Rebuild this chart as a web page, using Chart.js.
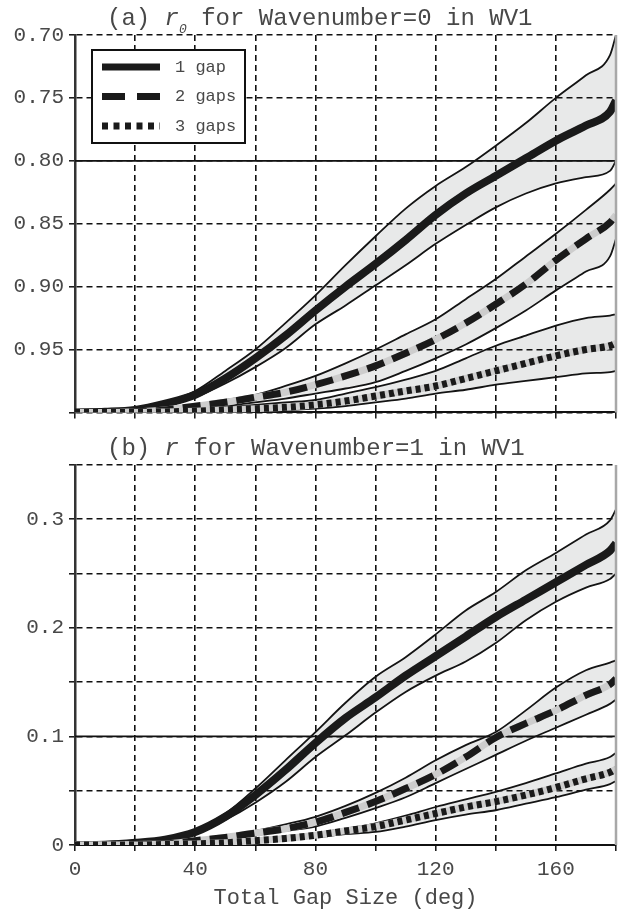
<!DOCTYPE html>
<html>
<head>
<meta charset="utf-8">
<script src="https://cdn.jsdelivr.net/npm/chart.js@4.4.0/dist/chart.umd.min.js"></script>
<style>
  html, body { margin: 0; padding: 0; background: #fff; }
  #wrap { position: relative; width: 622px; height: 911px; }
  canvas { position: absolute; left: 0; }
  #chartA { top: 0; }
  #chartB { top: 430px; }
</style>
</head>
<body>
<div id="wrap">
  <canvas id="chartA" width="622" height="430"></canvas>
  <canvas id="chartB" width="622" height="481"></canvas>
</div>
<script>
// total gap size (deg) where the curves are sampled
const gapDeg = [0, 10, 20, 30, 40, 50, 60, 70, 80, 90, 100, 110, 120, 130, 140, 150, 160, 170, 178, 180];
const gapLabels = ['1 gap', '2 gaps', '3 gaps'];

// (a) r0 for wavenumber 0 -- mean and spread bounds
const r0Mean1  = [1.000, 0.9995, 0.998, 0.993, 0.986, 0.973, 0.957, 0.939, 0.919, 0.900, 0.882, 0.863, 0.843, 0.826, 0.812, 0.798, 0.784, 0.772, 0.761, 0.752];
const r0Upper1 = [1.000, 0.9995, 0.9975, 0.992, 0.983, 0.967, 0.950, 0.929, 0.907, 0.883, 0.860, 0.838, 0.820, 0.805, 0.788, 0.770, 0.750, 0.732, 0.716, 0.700];
const r0Lower1 = [1.000, 0.9996, 0.9985, 0.995, 0.988, 0.977, 0.964, 0.949, 0.930, 0.915, 0.899, 0.883, 0.866, 0.851, 0.837, 0.826, 0.818, 0.813, 0.808, 0.800];
const r0Mean2  = [1.000, 1.000, 0.9995, 0.998, 0.995, 0.992, 0.988, 0.984, 0.978, 0.971, 0.963, 0.953, 0.942, 0.929, 0.914, 0.898, 0.879, 0.862, 0.849, 0.843];
const r0Upper2 = [1.000, 1.000, 0.9993, 0.997, 0.994, 0.990, 0.986, 0.979, 0.971, 0.961, 0.950, 0.938, 0.926, 0.910, 0.894, 0.876, 0.858, 0.839, 0.823, 0.818];
const r0Lower2 = [1.000, 1.000, 0.9997, 0.999, 0.997, 0.995, 0.992, 0.989, 0.985, 0.981, 0.976, 0.967, 0.957, 0.946, 0.933, 0.919, 0.903, 0.888, 0.876, 0.862];
const r0Mean3  = [1.000, 1.000, 1.000, 0.9996, 0.999, 0.998, 0.997, 0.996, 0.994, 0.991, 0.987, 0.983, 0.979, 0.973, 0.967, 0.961, 0.955, 0.950, 0.947, 0.945];
const r0Upper3 = [1.000, 1.000, 0.9998, 0.999, 0.998, 0.996, 0.994, 0.992, 0.990, 0.985, 0.980, 0.974, 0.967, 0.957, 0.947, 0.939, 0.931, 0.925, 0.923, 0.922];
const r0Lower3 = [1.000, 1.000, 1.000, 1.000, 0.9995, 0.999, 0.998, 0.998, 0.997, 0.995, 0.992, 0.989, 0.985, 0.982, 0.978, 0.975, 0.972, 0.969, 0.968, 0.967];

// (b) r for wavenumber 1
const r1Mean1  = [0, 0.0003, 0.002, 0.005, 0.012, 0.026, 0.046, 0.069, 0.094, 0.117, 0.136, 0.156, 0.174, 0.192, 0.210, 0.226, 0.242, 0.258, 0.271, 0.278];
const r1Upper1 = [0, 0.0003, 0.002, 0.006, 0.014, 0.029, 0.052, 0.078, 0.104, 0.131, 0.155, 0.173, 0.194, 0.216, 0.233, 0.253, 0.269, 0.286, 0.299, 0.309];
const r1Lower1 = [0, 0.0003, 0.0015, 0.004, 0.010, 0.023, 0.039, 0.058, 0.081, 0.101, 0.122, 0.141, 0.156, 0.169, 0.186, 0.207, 0.224, 0.237, 0.245, 0.250];
const r1Mean2  = [0, 0, 0.0005, 0.001, 0.004, 0.007, 0.011, 0.015, 0.021, 0.030, 0.040, 0.052, 0.065, 0.081, 0.099, 0.112, 0.124, 0.138, 0.148, 0.153];
const r1Upper2 = [0, 0, 0.0006, 0.0015, 0.005, 0.008, 0.013, 0.019, 0.026, 0.036, 0.048, 0.062, 0.078, 0.092, 0.104, 0.124, 0.145, 0.161, 0.168, 0.170];
const r1Lower2 = [0, 0, 0.0004, 0.001, 0.003, 0.006, 0.009, 0.013, 0.017, 0.025, 0.034, 0.044, 0.057, 0.070, 0.083, 0.096, 0.108, 0.120, 0.130, 0.134];
const r1Mean3  = [0, 0, 0, 0.0005, 0.001, 0.002, 0.004, 0.006, 0.009, 0.013, 0.017, 0.023, 0.029, 0.035, 0.040, 0.046, 0.053, 0.061, 0.067, 0.070];
const r1Upper3 = [0, 0, 0, 0.0006, 0.0015, 0.003, 0.005, 0.008, 0.011, 0.015, 0.020, 0.027, 0.035, 0.042, 0.049, 0.057, 0.066, 0.075, 0.081, 0.085];
const r1Lower3 = [0, 0, 0, 0.0004, 0.001, 0.0015, 0.003, 0.005, 0.007, 0.010, 0.012, 0.017, 0.023, 0.028, 0.032, 0.038, 0.044, 0.051, 0.056, 0.059];

const textColor = '#484848';
const monoFont = '"Liberation Mono", "DejaVu Sans Mono", monospace';
const gapDash = [[], [18, 9], [5, 4]];
const legendDash = [[], [23, 12], [6, 5.5]];

function pts(ys) {
  return gapDeg.map((d, i) => ({ x: d, y: ys[i] }));
}

// gray spread band bounded by two thin lines
function bandSets(upper, lower) {
  return [
    { data: pts(upper), borderColor: '#141414', borderWidth: 1.8, backgroundColor: '#e8e9e9', fill: '+1', order: 10 },
    { data: pts(lower), borderColor: '#141414', borderWidth: 1.8, fill: false, order: 10 }
  ];
}

// thick mean line, dashed ones get a light gray line underneath
function meanSets(mean, dash, order) {
  const sets = [];
  if (dash.length) {
    sets.push({ data: pts(mean), borderColor: '#cdcdcd', borderWidth: 7, fill: false, order: order + 1 });
  }
  sets.push({ data: pts(mean), borderColor: '#1a1a1a', borderWidth: dash.length ? 7 : 8, borderDash: dash, fill: false, order: order });
  return sets;
}

function drawTitle(ctx, x, y, parts) {
  ctx.save();
  ctx.fillStyle = textColor;
  ctx.textBaseline = 'alphabetic';
  ctx.textAlign = 'left';
  let cx = x;
  parts.forEach(p => {
    ctx.font = p.font;
    ctx.fillText(p.text, cx, y + (p.dy || 0));
    cx += ctx.measureText(p.text).width;
  });
  ctx.restore();
}

function drawLegend(ctx, area) {
  const bx = area.left + 17, by = area.top + 15, bw = 153, bh = 93;
  ctx.save();
  ctx.fillStyle = '#fff';
  ctx.fillRect(bx, by, bw, bh);
  ctx.strokeStyle = '#111';
  ctx.lineWidth = 2;
  ctx.strokeRect(bx, by, bw, bh);
  gapLabels.forEach((label, i) => {
    const ly = by + 17 + i * 29.5;
    ctx.strokeStyle = '#1a1a1a';
    ctx.lineWidth = 7;
    ctx.lineCap = 'butt';
    ctx.setLineDash(legendDash[i]);
    ctx.beginPath();
    ctx.moveTo(bx + 10, ly);
    ctx.lineTo(bx + 68, ly);
    ctx.stroke();
    ctx.setLineDash([]);
    ctx.fillStyle = textColor;
    ctx.font = '17px ' + monoFont;
    ctx.textBaseline = 'middle';
    ctx.fillText(label, bx + 83, ly);
  });
  ctx.restore();
}

function panelDecor(refValue, titleParts, withLegend) {
  return {
    id: 'panelDecor',
    beforeDatasetsDraw(chart) {
      // solid reference line
      const { ctx, chartArea: a, scales: { y } } = chart;
      const py = y.getPixelForValue(refValue);
      ctx.save();
      ctx.strokeStyle = '#111';
      ctx.lineWidth = 1.7;
      ctx.beginPath();
      ctx.moveTo(a.left, py);
      ctx.lineTo(a.right, py);
      ctx.stroke();
      ctx.restore();
    },
    afterDraw(chart) {
      const { ctx, chartArea: a } = chart;
      ctx.save();
      ctx.strokeStyle = '#a8a8a8';
      ctx.lineWidth = 2.5;
      ctx.beginPath();
      ctx.moveTo(a.right, a.top);
      ctx.lineTo(a.right, a.bottom);
      ctx.stroke();
      ctx.restore();
      drawTitle(ctx, 107, 25, titleParts);
      if (withLegend) drawLegend(ctx, a);
    }
  };
}

const gridOpts = { color: '#111', lineWidth: 1.6, tickLength: 6, tickColor: '#111', tickWidth: 1.5, tickBorderDash: [] };

function buildPanel(canvasId, mean, upper, lower, yScale, xScale, decor) {
  const datasets = [
    ...bandSets(upper[0], lower[0]),
    ...bandSets(upper[1], lower[1]),
    ...bandSets(upper[2], lower[2]),
    ...meanSets(mean[0], gapDash[0], 5),
    ...meanSets(mean[1], gapDash[1], 3),
    ...meanSets(mean[2], gapDash[2], 1)
  ];
  return new Chart(document.getElementById(canvasId), {
    type: 'line',
    data: { datasets },
    options: {
      responsive: false,
      animation: false,
      devicePixelRatio: 1,
      layout: { padding: { top: 35, right: 6, left: 0, bottom: 0 } },
      elements: {
        point: { radius: 0 },
        line: { cubicInterpolationMode: 'monotone', borderCapStyle: 'butt', borderJoinStyle: 'round' }
      },
      plugins: {
        legend: { display: false },
        tooltip: { enabled: false },
        filler: { drawTime: 'beforeDraw', propagate: false }
      },
      scales: { x: xScale, y: yScale }
    },
    plugins: [decor]
  });
}

const serif = 'italic 24px ' + monoFont;
const plain = '24px ' + monoFont;

buildPanel('chartA',
  [r0Mean1, r0Mean2, r0Mean3],
  [r0Upper1, r0Upper2, r0Upper3],
  [r0Lower1, r0Lower2, r0Lower3],
  {
    type: 'linear', min: 0.7, max: 1.0, reverse: true,
    ticks: {
      stepSize: 0.05, padding: 5, color: textColor,
      font: { family: monoFont, size: 21 },
      callback: v => Math.abs(v - 1) < 1e-9 ? '' : v.toFixed(2)
    },
    grid: gridOpts,
    border: { display: true, color: '#333', width: 2.5, dash: [6, 4] },
    afterFit: s => { s.width = 75; }
  },
  {
    type: 'linear', min: 0, max: 180,
    ticks: { stepSize: 20, display: false, autoSkip: false },
    grid: gridOpts,
    border: { display: true, color: '#111', width: 2, dash: [6, 4] },
    afterFit: s => { s.height = 15; }
  },
  panelDecor(0.8, [
    { text: '(a) ', font: plain },
    { text: 'r', font: serif },
    { text: '0', font: 'italic 13px ' + monoFont, dy: 8 },
    { text: ' for Wavenumber=0 in WV1', font: plain }
  ], true)
);

buildPanel('chartB',
  [r1Mean1, r1Mean2, r1Mean3],
  [r1Upper1, r1Upper2, r1Upper3],
  [r1Lower1, r1Lower2, r1Lower3],
  {
    type: 'linear', min: 0, max: 0.35,
    ticks: {
      stepSize: 0.05, padding: 5, color: textColor,
      font: { family: monoFont, size: 21 },
      callback: v => {
        const tenth = Math.abs(v * 10 - Math.round(v * 10)) < 1e-6;
        if (!tenth || v > 0.34) return '';
        return v < 1e-9 ? '0' : v.toFixed(1);
      }
    },
    grid: gridOpts,
    border: { display: true, color: '#333', width: 2.5, dash: [6, 4] },
    afterFit: s => { s.width = 75; }
  },
  {
    type: 'linear', min: 0, max: 180,
    ticks: {
      stepSize: 20, autoSkip: false, maxRotation: 0, padding: 6, color: textColor,
      font: { family: monoFont, size: 21 },
      callback: v => v % 40 === 0 ? String(v) : ''
    },
    title: {
      display: true, text: 'Total Gap Size (deg)', color: textColor,
      font: { family: monoFont, size: 22 }, padding: { top: 0, bottom: 0 }
    },
    grid: gridOpts,
    border: { display: true, color: '#111', width: 2, dash: [6, 4] },
    afterFit: s => { s.height = 66; }
  },
  panelDecor(0.1, [
    { text: '(b) ', font: plain },
    { text: 'r', font: serif },
    { text: ' for Wavenumber=1 in WV1', font: plain }
  ], false)
);
</script>
</body>
</html>
